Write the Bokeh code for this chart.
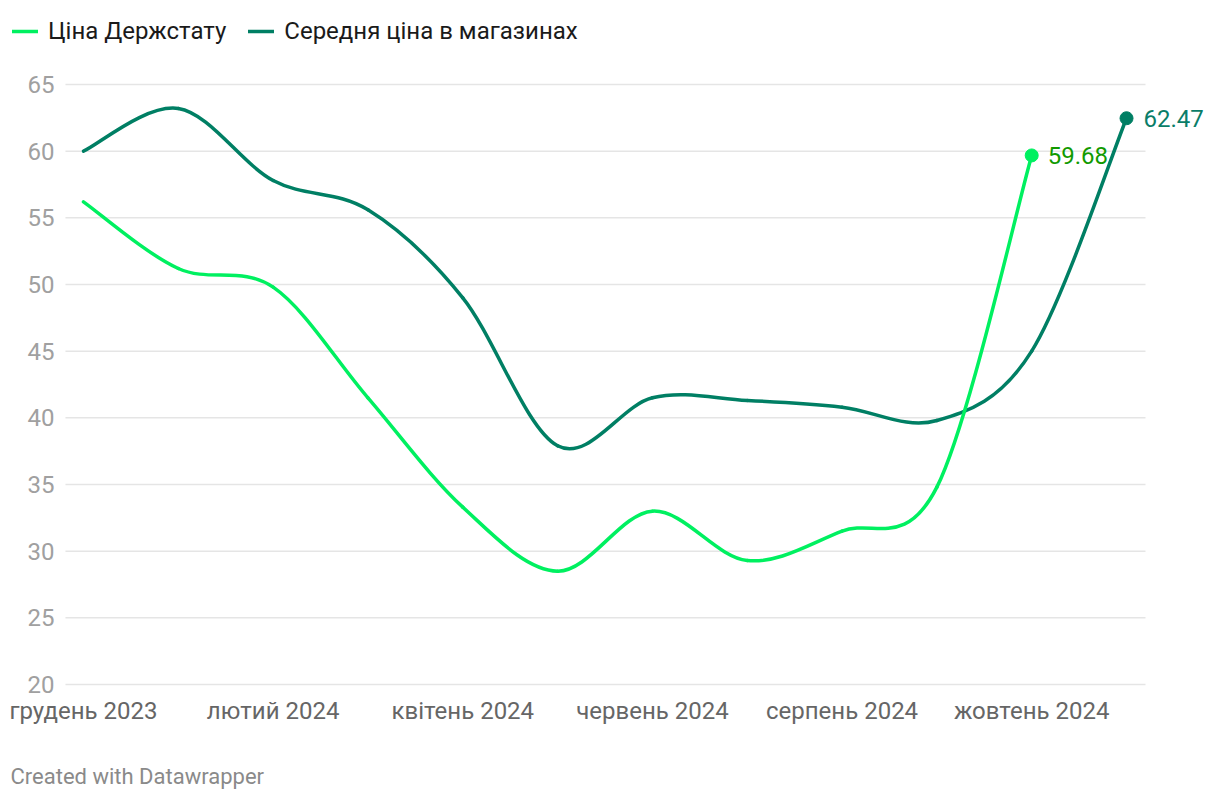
from bokeh.plotting import figure
from bokeh.models import Range1d, FixedTicker, Label, Legend, LegendItem
from bokeh.embed import file_html
from bokeh.resources import INLINE

# ---- data ----
months = ["грудень 2023", "січень 2024", "лютий 2024", "березень 2024", "квітень 2024",
          "травень 2024", "червень 2024", "липень 2024", "серпень 2024", "вересень 2024",
          "жовтень 2024", "листопад 2024"]
tick_months = [0, 2, 4, 6, 8, 10]
derzhstat = [56.2, 51.2, 49.8, 41.5, 33.3, 28.5, 33.0, 29.3, 31.5, 34.8, 59.68]
stores = [60.0, 63.2, 57.8, 55.6, 49.0, 37.9, 41.5, 41.3, 40.8, 39.8, 45.0, 62.47]
y_ticks = [20, 25, 30, 35, 40, 45, 50, 55, 60, 65]
series_names = ["Ціна Держстату", "Середня ціна в магазинах"]
footer = "Created with Datawrapper"

LIGHT = "#00f060"
DARK = "#007f64"
FONT = "Roboto"

# ---- layout constants (pixels) ----
W, H = 1212, 792
X0_PX, PX_PER_MONTH = 83.0, 94.82      # first month position, month spacing
Y65_PX, PX_PER_UNIT = 84.0, 13.333     # position of the 65 line, px per unit
GRID_LEFT, GRID_RIGHT = -0.19, 11.2    # grid extent in month units


def cardinal_segments(vals):
    n = len(vals)
    xs = list(range(n))
    out = {k: [] for k in ("x0", "y0", "x1", "y1", "cx0", "cy0", "cx1", "cy1")}
    for i in range(n - 1):
        im1 = max(i - 1, 0)
        ip2 = min(i + 2, n - 1)
        out["x0"].append(xs[i]); out["y0"].append(vals[i])
        out["x1"].append(xs[i + 1]); out["y1"].append(vals[i + 1])
        out["cx0"].append(xs[i] + (xs[i + 1] - xs[im1]) / 6.0)
        out["cy0"].append(vals[i] + (vals[i + 1] - vals[im1]) / 6.0)
        out["cx1"].append(xs[i + 1] - (xs[ip2] - xs[i]) / 6.0)
        out["cy1"].append(vals[i + 1] - (vals[ip2] - vals[i]) / 6.0)
    return out


x_start = -X0_PX / PX_PER_MONTH
x_end = (W - X0_PX) / PX_PER_MONTH
y_end = 65 + Y65_PX / PX_PER_UNIT
y_start = 65 - (H - Y65_PX) / PX_PER_UNIT

p = figure(width=W, height=H, output_backend="svg", toolbar_location=None,
           x_range=Range1d(x_start, x_end), y_range=Range1d(y_start, y_end),
           min_border=0)
p.outline_line_color = None
p.background_fill_color = "white"
p.border_fill_color = "white"
p.xgrid.grid_line_color = None
p.ygrid.grid_line_color = None

# horizontal grid lines
p.segment(x0=[GRID_LEFT] * len(y_ticks), x1=[GRID_RIGHT] * len(y_ticks),
          y0=y_ticks, y1=y_ticks, line_color="#e5e5e5", line_width=1.5)

# axes fixed inside the frame
p.yaxis.fixed_location = GRID_LEFT
p.yaxis.ticker = FixedTicker(ticks=y_ticks)
p.yaxis.axis_line_color = None
p.yaxis.major_tick_line_color = None
p.yaxis.minor_tick_line_color = None
p.yaxis.major_label_standoff = 5
p.yaxis.major_label_text_font = FONT
p.yaxis.major_label_text_font_size = "24px"
p.yaxis.major_label_text_color = "#a0a0a0"

p.xaxis.fixed_location = y_ticks[0]
p.xaxis.ticker = FixedTicker(ticks=tick_months)
p.xaxis.major_label_overrides = {i: months[i] for i in tick_months}
p.xaxis.axis_line_color = None
p.xaxis.major_tick_line_color = None
p.xaxis.minor_tick_line_color = None
p.xaxis.major_label_standoff = 7
p.xaxis.major_label_text_font = FONT
p.xaxis.major_label_text_font_size = "24px"
p.xaxis.major_label_text_color = "#666666"

seg_s = cardinal_segments(stores)
seg_d = cardinal_segments(derzhstat)
r_d = p.bezier(source=seg_s, x0="x0", y0="y0", x1="x1", y1="y1", cx0="cx0", cy0="cy0",
               cx1="cx1", cy1="cy1", line_color=DARK, line_width=3.5, line_cap="round")
r_l = p.bezier(source=seg_d, x0="x0", y0="y0", x1="x1", y1="y1", cx0="cx0", cy0="cy0",
               cx1="cx1", cy1="cy1", line_color=LIGHT, line_width=3.5, line_cap="round")

p.scatter([len(derzhstat) - 1], [derzhstat[-1]], size=13, color=LIGHT)
p.scatter([len(stores) - 1], [stores[-1]], size=13, color=DARK)

p.add_layout(Label(x=len(derzhstat) - 1, y=derzhstat[-1], text=f"{derzhstat[-1]:.2f}",
                   x_offset=16, text_baseline="middle", text_font=FONT,
                   text_font_size="24px", text_color="#119a00"))
p.add_layout(Label(x=len(stores) - 1, y=stores[-1], text=f"{stores[-1]:.2f}",
                   x_offset=17, text_baseline="middle", text_font=FONT,
                   text_font_size="24px", text_color="#0a7d68"))

legend = Legend(items=[LegendItem(label=series_names[0], renderers=[r_l]),
                       LegendItem(label=series_names[1], renderers=[r_d])],
                orientation="horizontal", location=(12, H - 45),
                glyph_width=26, glyph_height=22, label_standoff=10, spacing=22,
                padding=0, margin=0, border_line_color=None, background_fill_alpha=0,
                label_text_font=FONT, label_text_font_size="24px",
                label_text_color="#1a1a1a")
p.add_layout(legend, "center")

p.add_layout(Label(x=10, y=H - 776, x_units="screen", y_units="screen",
                   text=footer, text_baseline="middle",
                   text_font=FONT, text_font_size="22px", text_color="#8a8a8a"))

open("out.html", "w").write(file_html(p, INLINE))
